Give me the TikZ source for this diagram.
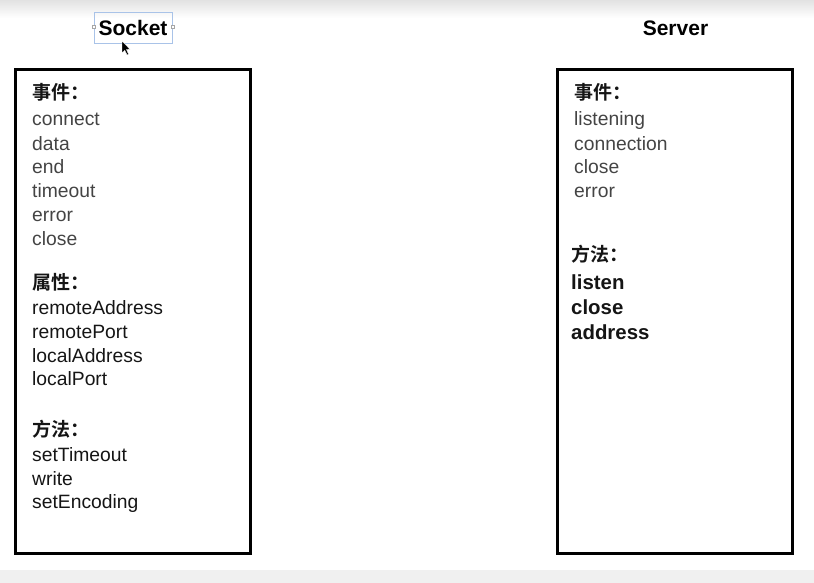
\documentclass[tikz,border=0pt]{standalone}
\usepackage{fontspec}
\setmainfont{Liberation Sans}
\newfontfamily\cjkb[BoldFont={Noto Sans CJK SC Bold}]{Noto Sans CJK SC}
\usetikzlibrary{shapes.geometric}
\definecolor{evgray}{HTML}{444444}
\definecolor{txtblack}{HTML}{151515}
\definecolor{selblue}{HTML}{A9C3E8}
\begin{document}
\begin{tikzpicture}[x=1pt,y=-1pt,
  panel/.style={draw=black,line width=3pt,outer sep=0pt,inner sep=0pt,anchor=north west,minimum width=235pt,minimum height=484pt},
  title/.style={font=\fontsize{21}{24}\selectfont\bfseries,anchor=base,inner sep=0pt},
  head/.style={font=\cjkb\fontsize{19}{22}\selectfont\bfseries,anchor=base west,inner sep=0pt,text=txtblack},
  ev/.style={font=\fontsize{19.3}{22}\selectfont,anchor=base west,inner sep=0pt,text=evgray},
  item/.style={font=\fontsize{19.3}{22}\selectfont,anchor=base west,inner sep=0pt,text=txtblack},
  bitem/.style={font=\fontsize{20.4}{22}\selectfont\bfseries,anchor=base west,inner sep=0pt,text=txtblack}]
\useasboundingbox (0,0) rectangle (814,583);
\shade[top color={rgb,255:red,226;green,226;blue,226},bottom color=white] (0,0) rectangle (814,18);
\fill[fill={rgb,255:red,240;green,240;blue,240}] (0,570) rectangle (814,583);
% titles
\draw[selblue,line width=0.8pt] (94,12) rectangle (172,43);
\draw[fill=white,draw=gray!70,line width=0.5pt] (92,25.5) rectangle (95,28.5);
\draw[fill=white,draw=gray!70,line width=0.5pt] (171,25.5) rectangle (174,28.5);
\node[title] (tsock) at (133,35.5) {Socket};
\node[title] (tserv) at (675.5,35.5) {Server};
\fill[black,draw=white,line width=0.4pt] (122,41) -- (122,53) -- (124.8,50.3) -- (127,55) -- (128.6,54.2) -- (126.5,49.6) -- (130,49.3) -- cycle;
% panels
\node[panel] (psock) at (15.5,69.5) {};
\node[panel] (pserv) at (557.5,69.5) {};
% socket
\node[head] (s1) at (32,100) {事件：};
\node[ev] (s2) at (32,126) {connect};
\node[ev] (s3) at (32,150) {data};
\node[ev] (s4) at (32,173.5) {end};
\node[ev] (s5) at (32,197.5) {timeout};
\node[ev] (s6) at (32,221) {error};
\node[ev] (s7) at (32,245) {close};
\node[head] (s8) at (32,289) {属性：};
\node[item] (s9) at (32,314) {remoteAddress};
\node[item] (s10) at (32,338) {remotePort};
\node[item] (s11) at (32,362) {localAddress};
\node[item] (s12) at (32,385.5) {localPort};
\node[head] (s13) at (32,436) {方法：};
\node[item] (s14) at (32,461) {setTimeout};
\node[item] (s15) at (32,485) {write};
\node[item] (s16) at (32,508.5) {setEncoding};
% server
\node[head] (v1) at (574,100) {事件：};
\node[ev] (v2) at (574,126) {listening};
\node[ev] (v3) at (574,150) {connection};
\node[ev] (v4) at (574,173.5) {close};
\node[ev] (v5) at (574,197.5) {error};
\node[head] (v6) at (571,261) {方法：};
\node[bitem] (v7) at (571,289.5) {listen};
\node[bitem] (v8) at (571,314.5) {close};
\node[bitem] (v9) at (571,339.5) {address};
\end{tikzpicture}
\end{document}
